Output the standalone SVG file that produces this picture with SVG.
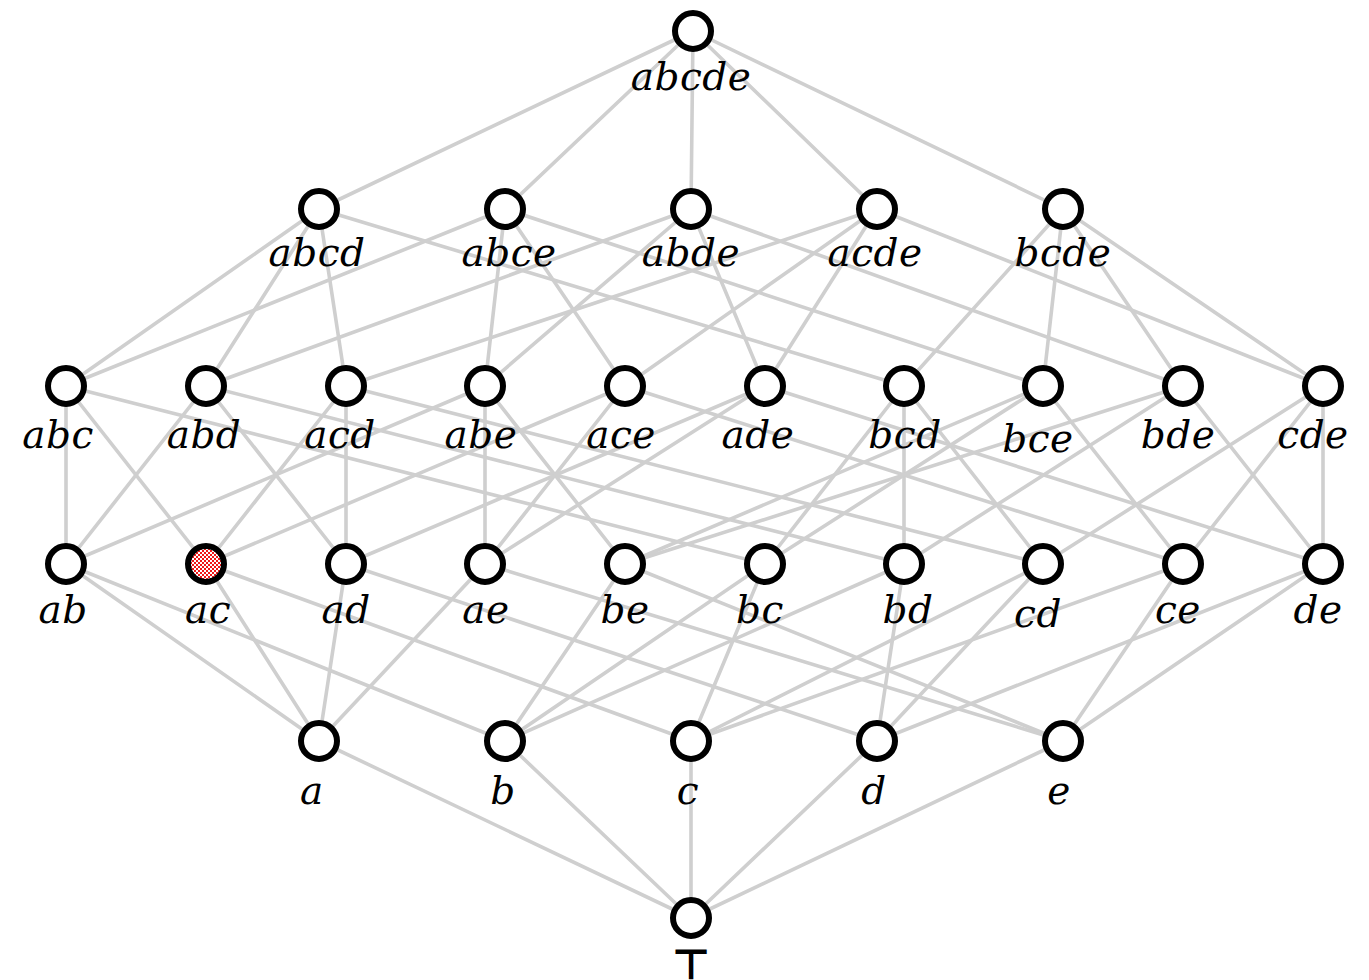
<svg xmlns="http://www.w3.org/2000/svg" width="1369" height="980" viewBox="0 0 1369 980">
  <style>
    .edges line { stroke: #cfcfcf; stroke-width: 3.6; stroke-linecap: round; }
    .node circle { fill: #ffffff; stroke: #000000; stroke-width: 6; }
    .node text { font-family: "DejaVu Serif", "Liberation Serif", serif; font-style: italic; font-size: 39px; fill: #000000; text-anchor: middle; letter-spacing: 0.5px; }
    .node text.top { font-family: "DejaVu Sans", "Liberation Sans", sans-serif; font-style: normal; font-weight: bold; font-size: 42px; letter-spacing: 0; }
  </style>
  <defs>
    <pattern id="checker" width="4" height="4" patternUnits="userSpaceOnUse">
      <rect width="4" height="4" fill="#ffffff"/>
      <rect x="0" y="0" width="2" height="2" fill="#f01818"/>
      <rect x="2" y="2" width="2" height="2" fill="#f01818"/>
    </pattern>
  </defs>

  <!-- Hasse diagram edges: each set joined to the subsets one element smaller -->
  <g id="edges" class="edges">
    <!-- abcde to the four-element sets -->
    <line x1="693" y1="31" x2="319" y2="209"/>
    <line x1="693" y1="31" x2="505" y2="209"/>
    <line x1="693" y1="31" x2="691" y2="209"/>
    <line x1="693" y1="31" x2="877" y2="209"/>
    <line x1="693" y1="31" x2="1063" y2="209"/>
    <!-- four-element sets to three-element sets -->
    <line x1="319" y1="209" x2="66" y2="386"/>
    <line x1="319" y1="209" x2="206" y2="386"/>
    <line x1="319" y1="209" x2="346" y2="386"/>
    <line x1="319" y1="209" x2="904" y2="386"/>
    <line x1="505" y1="209" x2="66" y2="386"/>
    <line x1="505" y1="209" x2="485" y2="386"/>
    <line x1="505" y1="209" x2="625" y2="386"/>
    <line x1="505" y1="209" x2="1043" y2="386"/>
    <line x1="691" y1="209" x2="206" y2="386"/>
    <line x1="691" y1="209" x2="485" y2="386"/>
    <line x1="691" y1="209" x2="765" y2="386"/>
    <line x1="691" y1="209" x2="1183" y2="386"/>
    <line x1="877" y1="209" x2="346" y2="386"/>
    <line x1="877" y1="209" x2="625" y2="386"/>
    <line x1="877" y1="209" x2="765" y2="386"/>
    <line x1="877" y1="209" x2="1323" y2="386"/>
    <line x1="1063" y1="209" x2="904" y2="386"/>
    <line x1="1063" y1="209" x2="1043" y2="386"/>
    <line x1="1063" y1="209" x2="1183" y2="386"/>
    <line x1="1063" y1="209" x2="1323" y2="386"/>
    <!-- three-element sets to pairs -->
    <line x1="66" y1="386" x2="66" y2="564"/>
    <line x1="66" y1="386" x2="206" y2="564"/>
    <line x1="66" y1="386" x2="765" y2="564"/>
    <line x1="206" y1="386" x2="66" y2="564"/>
    <line x1="206" y1="386" x2="346" y2="564"/>
    <line x1="206" y1="386" x2="904" y2="564"/>
    <line x1="346" y1="386" x2="206" y2="564"/>
    <line x1="346" y1="386" x2="346" y2="564"/>
    <line x1="346" y1="386" x2="1043" y2="564"/>
    <line x1="485" y1="386" x2="66" y2="564"/>
    <line x1="485" y1="386" x2="485" y2="564"/>
    <line x1="485" y1="386" x2="625" y2="564"/>
    <line x1="625" y1="386" x2="206" y2="564"/>
    <line x1="625" y1="386" x2="485" y2="564"/>
    <line x1="625" y1="386" x2="1183" y2="564"/>
    <line x1="765" y1="386" x2="346" y2="564"/>
    <line x1="765" y1="386" x2="485" y2="564"/>
    <line x1="765" y1="386" x2="1323" y2="564"/>
    <line x1="904" y1="386" x2="765" y2="564"/>
    <line x1="904" y1="386" x2="904" y2="564"/>
    <line x1="904" y1="386" x2="1043" y2="564"/>
    <line x1="1043" y1="386" x2="765" y2="564"/>
    <line x1="1043" y1="386" x2="625" y2="564"/>
    <line x1="1043" y1="386" x2="1183" y2="564"/>
    <line x1="1183" y1="386" x2="904" y2="564"/>
    <line x1="1183" y1="386" x2="625" y2="564"/>
    <line x1="1183" y1="386" x2="1323" y2="564"/>
    <line x1="1323" y1="386" x2="1043" y2="564"/>
    <line x1="1323" y1="386" x2="1183" y2="564"/>
    <line x1="1323" y1="386" x2="1323" y2="564"/>
    <!-- pairs to singletons -->
    <line x1="66" y1="564" x2="319" y2="741"/>
    <line x1="66" y1="564" x2="505" y2="741"/>
    <line x1="206" y1="564" x2="319" y2="741"/>
    <line x1="206" y1="564" x2="691" y2="741"/>
    <line x1="346" y1="564" x2="319" y2="741"/>
    <line x1="346" y1="564" x2="877" y2="741"/>
    <line x1="485" y1="564" x2="319" y2="741"/>
    <line x1="485" y1="564" x2="1063" y2="741"/>
    <line x1="625" y1="564" x2="505" y2="741"/>
    <line x1="625" y1="564" x2="1063" y2="741"/>
    <line x1="765" y1="564" x2="505" y2="741"/>
    <line x1="765" y1="564" x2="691" y2="741"/>
    <line x1="904" y1="564" x2="505" y2="741"/>
    <line x1="904" y1="564" x2="877" y2="741"/>
    <line x1="1043" y1="564" x2="691" y2="741"/>
    <line x1="1043" y1="564" x2="877" y2="741"/>
    <line x1="1183" y1="564" x2="691" y2="741"/>
    <line x1="1183" y1="564" x2="1063" y2="741"/>
    <line x1="1323" y1="564" x2="877" y2="741"/>
    <line x1="1323" y1="564" x2="1063" y2="741"/>
    <!-- singletons to the bottom element -->
    <line x1="319" y1="741" x2="691" y2="918"/>
    <line x1="505" y1="741" x2="691" y2="918"/>
    <line x1="691" y1="741" x2="691" y2="918"/>
    <line x1="877" y1="741" x2="691" y2="918"/>
    <line x1="1063" y1="741" x2="691" y2="918"/>
  </g>

  <!-- rank 5 -->
  <g id="n-abcde" class="node"><circle cx="693" cy="31" r="18"/><text x="691" y="90">abcde</text></g>

  <!-- rank 4 -->
  <g id="n-abcd" class="node"><circle cx="319" cy="209" r="18"/><text x="317" y="266">abcd</text></g>
  <g id="n-abce" class="node"><circle cx="505" cy="209" r="18"/><text x="509" y="266">abce</text></g>
  <g id="n-abde" class="node"><circle cx="691" cy="209" r="18"/><text x="691" y="266">abde</text></g>
  <g id="n-acde" class="node"><circle cx="877" cy="209" r="18"/><text x="875" y="266">acde</text></g>
  <g id="n-bcde" class="node"><circle cx="1063" cy="209" r="18"/><text x="1063" y="266">bcde</text></g>

  <!-- rank 3 -->
  <g id="n-abc" class="node"><circle cx="66" cy="386" r="18"/><text x="58" y="448">abc</text></g>
  <g id="n-abd" class="node"><circle cx="206" cy="386" r="18"/><text x="204" y="448">abd</text></g>
  <g id="n-acd" class="node"><circle cx="346" cy="386" r="18"/><text x="340" y="448">acd</text></g>
  <g id="n-abe" class="node"><circle cx="485" cy="386" r="18"/><text x="481" y="448">abe</text></g>
  <g id="n-ace" class="node"><circle cx="625" cy="386" r="18"/><text x="621" y="448">ace</text></g>
  <g id="n-ade" class="node"><circle cx="765" cy="386" r="18"/><text x="758" y="448">ade</text></g>
  <g id="n-bcd" class="node"><circle cx="904" cy="386" r="18"/><text x="905" y="448">bcd</text></g>
  <g id="n-bce" class="node"><circle cx="1043" cy="386" r="18"/><text x="1038" y="452">bce</text></g>
  <g id="n-bde" class="node"><circle cx="1183" cy="386" r="18"/><text x="1178" y="448">bde</text></g>
  <g id="n-cde" class="node"><circle cx="1323" cy="386" r="18"/><text x="1313" y="448">cde</text></g>

  <!-- rank 2 -->
  <g id="n-ab" class="node"><circle cx="66" cy="564" r="18"/><text x="63" y="623">ab</text></g>
  <g id="n-ac" class="node"><circle cx="206" cy="564" r="18" style="fill:url(#checker)"/><text x="208" y="623">ac</text></g>
  <g id="n-ad" class="node"><circle cx="346" cy="564" r="18"/><text x="346" y="623">ad</text></g>
  <g id="n-ae" class="node"><circle cx="485" cy="564" r="18"/><text x="486" y="623">ae</text></g>
  <g id="n-be" class="node"><circle cx="625" cy="564" r="18"/><text x="625" y="623">be</text></g>
  <g id="n-bc" class="node"><circle cx="765" cy="564" r="18"/><text x="760" y="623">bc</text></g>
  <g id="n-bd" class="node"><circle cx="904" cy="564" r="18"/><text x="908" y="623">bd</text></g>
  <g id="n-cd" class="node"><circle cx="1043" cy="564" r="18"/><text x="1038" y="627">cd</text></g>
  <g id="n-ce" class="node"><circle cx="1183" cy="564" r="18"/><text x="1178" y="623">ce</text></g>
  <g id="n-de" class="node"><circle cx="1323" cy="564" r="18"/><text x="1318" y="623">de</text></g>

  <!-- rank 1 -->
  <g id="n-a" class="node"><circle cx="319" cy="741" r="18"/><text x="312" y="804">a</text></g>
  <g id="n-b" class="node"><circle cx="505" cy="741" r="18"/><text x="503" y="804">b</text></g>
  <g id="n-c" class="node"><circle cx="691" cy="741" r="18"/><text x="688" y="804">c</text></g>
  <g id="n-d" class="node"><circle cx="877" cy="741" r="18"/><text x="874" y="804">d</text></g>
  <g id="n-e" class="node"><circle cx="1063" cy="741" r="18"/><text x="1059" y="804">e</text></g>

  <!-- bottom element -->
  <g id="n-top" class="node"><circle cx="691" cy="918" r="18"/><text class="top" x="691" y="979">⊤</text></g>
</svg>
